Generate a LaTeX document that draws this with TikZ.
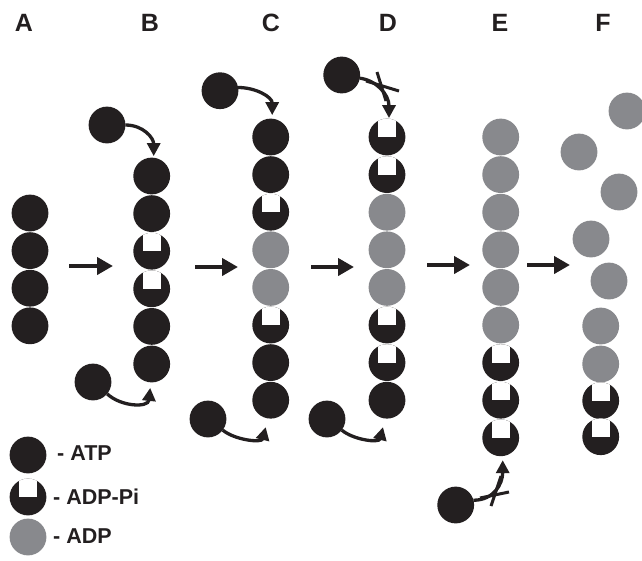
\documentclass[tikz,border=0pt]{standalone}
\usepackage{fontspec}
\setmainfont{Liberation Sans}
\usetikzlibrary{arrows.meta}
\definecolor{atpcol}{RGB}{35,31,32}
\definecolor{adpcol}{RGB}{136,137,141}

\begin{document}
\begin{tikzpicture}[x=1pt,y=-1pt,
  ball/.style={circle, inner sep=0pt, outer sep=0pt, minimum size=36.8pt},
  atp/.style={ball, fill=atpcol},
  adp/.style={ball, fill=adpcol},
  adppi/.style={ball, fill=atpcol,
    path picture={\fill[white]
      ([xshift=-9pt]path picture bounding box.center) rectangle
      ([xshift=9pt,yshift=2pt]path picture bounding box.north);}},
  stepto/.style={draw=atpcol, line width=4pt, -{Triangle[length=16pt,width=17pt]}},
  feed/.style={draw=atpcol, line width=3.3pt, -{Triangle[length=13pt,width=13pt]}},
  block/.style={draw=atpcol, line width=3pt},
  panel/.style={font=\fontsize{25}{25}\selectfont\bfseries, text=atpcol, inner sep=0pt},
  legtext/.style={font=\fontsize{21.5}{21.5}\selectfont\bfseries, text=atpcol, inner sep=0pt, anchor=west}
]
\useasboundingbox (0,0) rectangle (642,560);
\fill[white] (0,0) rectangle (642,560);

% panel letters
\node[panel] (lA) at (24,23)  {A};
\node[panel] (lB) at (150,23) {B};
\node[panel] (lC) at (271,23) {C};
\node[panel] (lD) at (388,23) {D};
\node[panel] (lE) at (500,23) {E};
\node[panel] (lF) at (603,23) {F};

% column A
\foreach \t [count=\i] in {atp,atp,atp,atp}
  \node[\t] (a\i) at (30,{213+(\i-1)*37.6}) {};

% column B
\foreach \t [count=\i] in {atp,atp,adppi,adppi,atp,atp}
  \node[\t] (b\i) at (151.7,{176+(\i-1)*37.6}) {};
\node[atp] (fB1) at (107,125) {};
\node[atp] (fB2) at (93,382) {};

% column C
\foreach \t [count=\i] in {atp,atp,adppi,adp,adp,adppi,atp,atp}
  \node[\t] (c\i) at (270.7,{137+(\i-1)*37.6}) {};
\node[atp] (fC1) at (220,90.7) {};
\node[atp] (fC2) at (208,419) {};

% column D
\foreach \t [count=\i] in {adppi,adppi,adp,adp,adp,adppi,adppi,atp}
  \node[\t] (d\i) at (387,{137+(\i-1)*37.6}) {};
\node[atp] (fD1) at (341.7,75) {};
\node[atp] (fD2) at (327,419) {};

% column E
\foreach \t [count=\i] in {adp,adp,adp,adp,adp,adp,adppi,adppi,adppi}
  \node[\t] (e\i) at (500.7,{137+(\i-1)*37.6}) {};
\node[atp] (fE) at (455.7,505) {};

% column F: released ADP
\node[adp] (f1) at (627,111) {};
\node[adp] (f2) at (579,152) {};
\node[adp] (f3) at (619,192) {};
\node[adp] (f4) at (591,239) {};
\node[adp] (f5) at (609,281) {};
\node[adp] (f6) at (600.7,326) {};
\node[adp] (f7) at (600.7,364) {};
\node[adppi] (f8) at (600.7,400.7) {};
\node[adppi] (f9) at (600.7,436.7) {};

% step arrows between panels
\coordinate (ab1) at (69,266);  \coordinate (ab2) at (113,266);
\coordinate (bc1) at (195,267); \coordinate (bc2) at (238,267);
\coordinate (cd1) at (311,267); \coordinate (cd2) at (354,267);
\coordinate (de1) at (427,265); \coordinate (de2) at (470,265);
\coordinate (ef1) at (527,265); \coordinate (ef2) at (570,265);
\draw[stepto] (ab1) -- (ab2);
\draw[stepto] (bc1) -- (bc2);
\draw[stepto] (cd1) -- (cd2);
\draw[stepto] (de1) -- (de2);
\draw[stepto] (ef1) -- (ef2);

% binding arrows, top ends
\draw[feed] (fB1.east) .. controls +(18,0) and +(0,-18) .. ([xshift=2pt,yshift=1.5pt]b1.north);
\draw[feed] (fC1.10) .. controls +(18,0) and +(0,-18) .. ([xshift=1.5pt,yshift=3.5pt]c1.north);
\draw[feed] (fD1.-10) .. controls +(16,2) and +(0,-24) .. ([xshift=2pt,yshift=0.5pt]d1.north);

% binding arrows, bottom ends
\draw[feed] (fB2.-40) .. controls +(14,13) and +(-2,20) .. ([xshift=-1.5pt,yshift=-5.5pt]b6.south);
\draw[feed] (fC2.-37) .. controls +(12,10) and +(-4,16) .. ([xshift=-5pt,yshift=-8.5pt]c8.south);
\draw[feed] (fD2.-37) .. controls +(12,10) and +(-4,16) .. ([xshift=-4pt,yshift=-8.5pt]d8.south);
\draw[feed] (fE.15) .. controls +(20,0) and +(0,24) .. ([xshift=2pt,yshift=-4pt]e9.south);

% blocked bindings
\coordinate (xd1) at (366,81);  \coordinate (xd2) at (399,91);
\coordinate (xd3) at (377,72);  \coordinate (xd4) at (386,101);
\draw[block] (xd1) -- (xd2);
\draw[block] (xd3) -- (xd4);
\coordinate (xe1) at (480,498); \coordinate (xe2) at (509,492);
\coordinate (xe3) at (501,476); \coordinate (xe4) at (491,506);
\draw[block] (xe1) -- (xe2);
\draw[block] (xe3) -- (xe4);

% legend
\node[atp] (kATP) at (28,455) {};
\node[adppi] (kADPPi) at (28,497) {};
\node[adp] (kADP) at (28,537) {};
\node[legtext] (tATP) at (57,453) {- ATP};
\node[legtext] (tADPPi) at (53,497) {- ADP-Pi};
\node[legtext] (tADP) at (53,536) {- ADP};
\end{tikzpicture}
\end{document}
